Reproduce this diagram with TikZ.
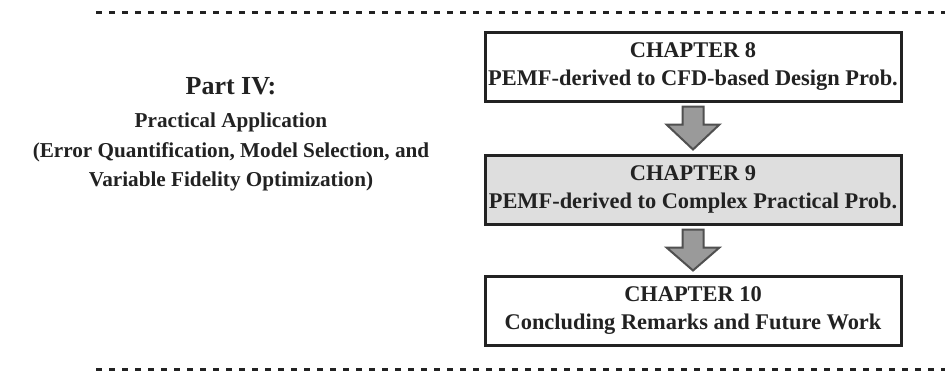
\documentclass[tikz,border=0pt]{standalone}
\usepackage{fontspec}
\setmainfont{Liberation Serif}
\usepackage{xcolor}
\usetikzlibrary{positioning,calc}

\definecolor{inkdark}{HTML}{222222}
\definecolor{boxgray}{HTML}{DEDEDE}
\definecolor{arrfill}{HTML}{9A9A9A}
\definecolor{arrdraw}{HTML}{505050}

% big block arrow between two chapter boxes
\newcommand\chaparrow[2]{%
  \draw[bigarr] ($(#1.south)+(-10.5,4)$) -- ($(#1.south)+(-10.5,22)$)
    -- ($(#1.south)+(-26.5,22)$) -- ($(#2.north)+(0,-4)$)
    -- ($(#1.south)+(26.5,22)$) -- ($(#1.south)+(10.5,22)$)
    -- ($(#1.south)+(10.5,4)$) -- cycle;}

\begin{document}
\begin{tikzpicture}[
  x=0.5pt, y=-0.5pt,
  node distance=25pt,
  every text node part/.style={align=center},
  chapbox/.style={draw=inkdark, line width=1.5pt, rectangle, minimum width=208pt, minimum height=34.5pt,
    inner sep=0pt, font=\fontsize{11.2}{14}\selectfont\bfseries, text=inkdark, fill=white},
  chapgray/.style={chapbox, fill=boxgray},
  bigarr/.style={draw=arrdraw, fill=arrfill, line width=1pt, line join=miter},
  sepline/.style={draw=inkdark, line width=1.5pt, dash pattern=on 3pt off 3.5pt}
]
  \useasboundingbox (0,0) rectangle (945,375);

  \node[chapbox] (ch8) at (693,66.5) {CHAPTER 8\\PEMF-derived to CFD-based Design Prob.};
  \node[chapgray, below=25.5pt of ch8] (ch9) {CHAPTER 9\\PEMF-derived to Complex Practical Prob.};
  \node[chapbox, below=24.5pt of ch9] (ch10) {CHAPTER 10\\Concluding Remarks and Future Work};

  \chaparrow{ch8}{ch9}
  \chaparrow{ch9}{ch10}

  \node[anchor=base, font=\fontsize{13}{15}\selectfont\bfseries, text=inkdark] (part) at (231,94) {Part IV:};
  \node[font=\fontsize{10.6}{14.75}\selectfont\bfseries, text=inkdark, inner sep=0pt] (desc) at (231,152)
    {Practical Application\\(Error Quantification, Model Selection, and\\Variable Fidelity Optimization)};

  \coordinate (topl) at (96,12);
  \coordinate (topr) at (945,12);
  \coordinate (botl) at (96,369);
  \coordinate (botr) at (945,369);
  \draw[sepline] (topl) -- (topr);
  \draw[sepline] (botl) -- (botr);
\end{tikzpicture}
\end{document}
